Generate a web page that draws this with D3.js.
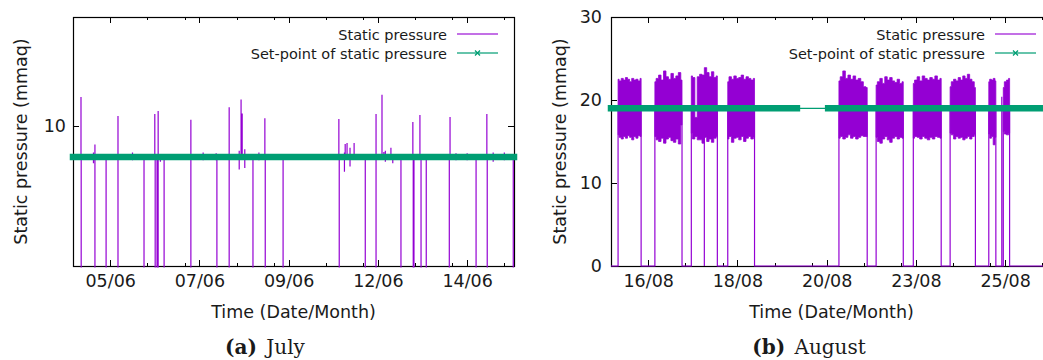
<!DOCTYPE html>
<html>
<head>
    <meta charset="utf-8" />
    <title>Static pressure</title>
    <style>
        body { margin: 0; background: #fff; }
        svg { display: block; }
        text { font-family: "DejaVu Sans", sans-serif; fill: #1a1a1a; }
        .axis path, .axis line {
            stroke: #000;
            shape-rendering: crispEdges;
        }
        .axis text { font-size: 17.5px; fill: #1a1a1a; font-family: "DejaVu Sans", sans-serif; }
        .title { font-size: 17.5px; }
        .legend { font-size: 14.5px; }
        .caption { font-family: "DejaVu Serif", serif; font-size: 20px; word-spacing: 3px; }
    </style>
    <script src="https://d3js.org/d3.v7.min.js"></script>
</head>
<body>
<script>

// x values are days since the first midnight of each panel (04/06 and 15/08)
let dayRange = [0, 11.86];
let majorDays = [1, 3.4, 5.8, 8.2, 10.6];
let minorDays = [2, 3, 4.4, 5.4, 6.8, 7.8, 9.2, 10.2, 11.6];
let juneLabels = ["05/06", "07/06", "09/06", "12/06", "14/06"];
let augLabels = ["16/08", "18/08", "20/08", "23/08", "25/08"];

let juneYDomain = [1, 17];
let juneYTicks = [10];
let augYDomain = [0, 30];
let augYTicks = [0, 10, 20, 30];

// (a) panel: pressure sits on the set-point, with short spikes and drops
let juneLevel = 8;
let juneSetLevel = 8;
let juneSetpoint = [[0, 11.86]];
let juneSpikes = [
    [0.215, 11.86], [0.59, 8.8], [1.21, 10.64], [2.2, 10.77], [2.29, 10.96],
    [3.17, 10.39], [4.2, 11.2], [4.52, 11.7], [4.55, 10.8], [5.16, 10.5],
    [7.15, 10.45], [7.32, 8.84], [7.37, 8.9], [7.56, 8.9], [8.15, 10.77],
    [8.31, 12.0], [8.36, 8.33], [8.55, 8.6], [9.14, 10.26], [9.33, 10.7],
    [10.14, 10.58], [11.13, 10.77]
];
let juneDrops = [
    0.22, 0.59, 0.89, 1.21, 1.91, 2.21, 2.26, 2.29, 2.45, 3.17, 3.87, 4.2,
    4.84, 5.17, 5.65, 7.16, 7.86, 8.15, 8.82, 9.15, 9.17, 9.36, 9.5, 10.12,
    10.84, 11.14, 11.84
];
// small wiggles around the set-point: [day, low, high]
let juneWiggles = [
    [0.55, 7.6, 8.3], [1.6, 7.8, 8.3], [2.35, 7.7, 8.2], [3.5, 7.8, 8.3],
    [3.85, 7.8, 8.25], [4.47, 7.2, 8.4], [4.62, 7.3, 8.5], [5.0, 7.8, 8.3],
    [7.3, 7.05, 8.3], [7.45, 7.4, 8.6], [8.4, 7.7, 8.4], [8.6, 7.6, 8.2],
    [10.3, 7.8, 8.25], [10.6, 7.8, 8.25], [11.3, 7.7, 8.3], [11.6, 7.8, 8.3]
];

// (b) panel: working-hours blocks oscillating between low and high envelopes
let augSetLevel = 19;
let augSetpoint = [[0, 5.0], [5.84, 11.86]];
let augBlocks = [
    [0.19, 0.81], [1.18, 1.91], [2.16, 2.86], [3.14, 3.86], [6.13, 6.89],
    [7.13, 7.86], [8.13, 8.88], [9.12, 9.80], [10.16, 10.35], [10.55, 10.72]
];
let augHi = [
    [22.5, 22.3, 22.6, 22.4, 22.7, 22.5, 22.2, 22.6, 22.4, 22.5, 22.3, 22.6],
    [22.2, 22.6, 23.0, 22.4, 23.5, 22.8, 22.5, 23.2, 22.6, 22.9, 23.3, 22.4],
    [22.9, 22.7, 17.9, 22.8, 23.1, 23.0, 23.9, 23.3, 22.8, 23.4, 22.7, 22.9],
    [22.2, 22.8, 22.5, 22.9, 22.6, 22.7, 23.0, 22.5, 22.8, 22.6, 22.4, 22.6],
    [22.3, 22.8, 23.5, 22.6, 23.0, 22.5, 22.9, 22.4, 22.6, 22.2, 21.6, 21.5],
    [21.8, 22.2, 22.6, 22.0, 22.8, 22.4, 22.7, 22.3, 22.1, 22.5, 22.0, 22.2],
    [22.0, 22.4, 22.8, 22.3, 22.9, 22.6, 22.4, 22.7, 22.5, 22.9, 22.4, 22.6],
    [21.6, 22.2, 22.5, 22.3, 22.7, 22.4, 22.9, 22.6, 23.1, 22.5, 22.2, 21.5],
    [22.2, 22.5, 22.4, 22.6, 22.3],
    [21.5, 22.2, 22.4, 22.6]
];
let augLo = [
    [15.8, 15.5, 15.3, 15.6, 15.4, 15.7, 15.5, 15.2, 15.6, 15.4, 15.7, 15.6],
    [15.6, 15.2, 15.0, 15.4, 14.8, 15.3, 15.5, 15.1, 14.9, 15.3, 14.7, 17.0],
    [16.0, 15.3, 15.6, 15.2, 15.2, 14.8, 15.5, 15.0, 15.3, 14.9, 15.4, 15.6],
    [15.3, 15.6, 14.9, 15.4, 15.5, 15.2, 15.6, 15.0, 15.4, 15.6, 15.3, 15.5],
    [15.4, 15.6, 15.3, 15.5, 15.8, 15.4, 15.6, 15.3, 15.5, 15.7, 15.6, 15.6],
    [15.5, 15.0, 14.8, 15.3, 15.6, 15.2, 14.9, 15.4, 15.6, 15.3, 15.5, 15.4],
    [15.4, 15.6, 15.5, 15.3, 15.6, 15.4, 15.2, 15.5, 15.3, 15.6, 15.5, 15.4],
    [16.0, 15.8, 15.3, 15.6, 15.4, 15.5, 15.2, 15.4, 15.6, 15.3, 15.6, 15.8],
    [15.9, 15.4, 15.6, 14.6, 15.5],
    [16.2, 15.9, 15.8, 16.0]
];
let augSpikes = [[10.51, 20.4]];
let augDrops = [2.51];

let purple = "#9400d3",
    green = "#009e73";

let plotTop = 17, plotBottom = 266;

let svg = d3.select("body")
    .append("svg")
    .attr("width", 1043)
    .attr("height", 360);

function juneSeries() {
    let events = [];
    juneSpikes.forEach(d => events.push([d[0], [d[1]]]));
    juneDrops.forEach(d => events.push([d, [0]]));
    juneWiggles.forEach(d => events.push([d[0], [d[1], d[2]]]));
    events.sort((a, b) => a[0] - b[0]);
    let pts = [[dayRange[0], juneLevel]];
    events.forEach(e => {
        pts.push([e[0], juneLevel]);
        e[1].forEach(v => pts.push([e[0], v]));
        pts.push([e[0], juneLevel]);
    });
    pts.push([dayRange[1], juneLevel]);
    return pts;
}

function augSeries() {
    // zero outside the blocks, edges rise into the band
    let events = [];
    augBlocks.forEach(b => {
        events.push([b[0], [0, augSetLevel]]);
        events.push([b[1], [augSetLevel, 0]]);
    });
    augSpikes.forEach(d => events.push([d[0], [0, d[1], 0]]));
    augDrops.forEach(d => events.push([d, [augSetLevel, 0, augSetLevel]]));
    events.sort((a, b) => a[0] - b[0]);
    let pts = [[dayRange[0], 0]];
    events.forEach(e => e[1].forEach(v => pts.push([e[0], v])));
    pts.push([dayRange[1], 0]);
    return pts;
}

function drawPanel(p) {
    let g = svg.append("g");

    let x = d3.scaleLinear().domain(dayRange).range([p.left, p.right]);
    let y = d3.scaleLinear().domain(p.yDomain).range([plotBottom, plotTop]);

    // axes, ticks inside on all four sides
    g.append("g")
        .attr("class", "axis")
        .attr("transform", "translate(0," + plotBottom + ")")
        .call(d3.axisBottom(x).tickValues(majorDays)
            .tickFormat((d, i) => p.labels[i])
            .tickSizeInner(-6).tickSizeOuter(0).tickPadding(9))
        .call(a => a.select(".domain").remove());
    g.append("g")
        .attr("class", "axis")
        .attr("transform", "translate(0," + plotBottom + ")")
        .call(d3.axisBottom(x).tickValues(minorDays).tickFormat("")
            .tickSizeInner(-3).tickSizeOuter(0))
        .call(a => a.select(".domain").remove());
    g.append("g")
        .attr("class", "axis")
        .attr("transform", "translate(0," + plotTop + ")")
        .call(d3.axisTop(x).tickValues(majorDays).tickFormat("")
            .tickSizeInner(-6).tickSizeOuter(0))
        .call(a => a.select(".domain").remove());
    g.append("g")
        .attr("class", "axis")
        .attr("transform", "translate(0," + plotTop + ")")
        .call(d3.axisTop(x).tickValues(minorDays).tickFormat("")
            .tickSizeInner(-3).tickSizeOuter(0))
        .call(a => a.select(".domain").remove());
    g.append("g")
        .attr("class", "axis")
        .attr("transform", "translate(" + p.left + ",0)")
        .call(d3.axisLeft(y).tickValues(p.yTicks)
            .tickSizeInner(-6).tickSizeOuter(0).tickPadding(p.yPad))
        .call(a => a.select(".domain").remove());
    g.append("g")
        .attr("class", "axis")
        .attr("transform", "translate(" + p.right + ",0)")
        .call(d3.axisRight(y).tickValues(p.yTicks).tickFormat("")
            .tickSizeInner(-6).tickSizeOuter(0))
        .call(a => a.select(".domain").remove());

    g.append("rect")
        .attr("x", p.left + 0.5)
        .attr("y", plotTop + 0.5)
        .attr("width", p.right - p.left)
        .attr("height", plotBottom - plotTop)
        .attr("fill", "none")
        .attr("stroke", "#000")
        .attr("stroke-width", 1.2);

    // clip the data to the frame
    g.append("clipPath")
        .attr("id", p.id)
        .append("rect")
        .attr("x", p.left)
        .attr("y", plotTop)
        .attr("width", p.right - p.left + 1)
        .attr("height", plotBottom - plotTop + 1.5);

    let data = g.append("g").attr("clip-path", "url(#" + p.id + ")");

    let line = d3.line()
        .x(d => x(d[0]))
        .y(d => y(d[1]));

    data.append("path")
        .attr("d", line(p.series))
        .attr("fill", "none")
        .attr("stroke", purple)
        .attr("stroke-width", 1.2);

    if (p.blocks) {
        let band = d3.area()
            .curve(d3.curveStep)
            .x(d => x(d[0]))
            .y0(d => y(d[1]))
            .y1(d => y(d[2]));
        p.blocks.forEach((b, i) => {
            let hi = p.hi[i], lo = p.lo[i];
            let pts = hi.map((v, j) => [b[0] + (b[1] - b[0]) * j / (hi.length - 1), lo[j], v]);
            data.append("path")
                .attr("d", band(pts))
                .attr("fill", purple)
                .attr("stroke", purple)
                .attr("stroke-width", 0.8);
        });
    }

    // set-point: dense markers make a thick band
    p.setpoint.forEach(s => {
        g.append("line")
            .attr("x1", x(s[0])).attr("x2", x(s[1]))
            .attr("y1", y(p.setLevel)).attr("y2", y(p.setLevel))
            .attr("stroke", green)
            .attr("stroke-width", 6.5)
            .attr("stroke-linecap", "square");
    });
    // plain line across the gaps
    for (let i = 1; i < p.setpoint.length; i++) {
        g.append("line")
            .attr("x1", x(p.setpoint[i - 1][1])).attr("x2", x(p.setpoint[i][0]))
            .attr("y1", y(p.setLevel)).attr("y2", y(p.setLevel))
            .attr("stroke", green)
            .attr("stroke-width", 1.2);
    }

    // legend
    let lx = p.right - 67;
    let leg = g.append("g").attr("class", "legend");
    leg.append("text").attr("x", lx).attr("y", 40)
        .attr("text-anchor", "end").text("Static pressure");
    leg.append("text").attr("x", lx).attr("y", 59)
        .attr("text-anchor", "end").text("Set-point of static pressure");
    leg.append("line")
        .attr("x1", lx + 10).attr("x2", lx + 51)
        .attr("y1", 34).attr("y2", 34)
        .attr("stroke", purple).attr("stroke-opacity", 0.75)
        .attr("stroke-width", 1.3);
    leg.append("line")
        .attr("x1", lx + 10).attr("x2", lx + 51)
        .attr("y1", 53).attr("y2", 53)
        .attr("stroke", green).attr("stroke-opacity", 0.8)
        .attr("stroke-width", 1.3);
    leg.append("path")
        .attr("d", "M" + (lx + 28) + ",50.5l5,5m0,-5l-5,5")
        .attr("stroke", green).attr("stroke-width", 1.3);

    // titles
    g.append("text")
        .attr("class", "title")
        .attr("transform", "translate(" + p.yTitleX + "," + ((plotTop + plotBottom) / 2) + ") rotate(-90)")
        .attr("text-anchor", "middle")
        .text("Static pressure (mmaq)");
    g.append("text")
        .attr("class", "title")
        .attr("x", (p.left + p.right) / 2)
        .attr("y", 318)
        .attr("text-anchor", "middle")
        .text("Time (Date/Month)");

    let cap = g.append("text")
        .attr("class", "caption")
        .attr("x", p.capX)
        .attr("y", 354)
        .attr("text-anchor", "middle");
    cap.append("tspan").attr("font-weight", "bold").text(p.capTag);
    cap.append("tspan").text(" " + p.capText);
}

drawPanel({
    id: "clipJune",
    left: 73, right: 514,
    yDomain: juneYDomain, yTicks: juneYTicks, yPad: 7,
    labels: juneLabels,
    series: juneSeries(),
    setpoint: juneSetpoint, setLevel: juneSetLevel,
    yTitleX: 27, capX: 265, capTag: "(a)", capText: "July"
});

drawPanel({
    id: "clipAug",
    left: 611, right: 1052,
    yDomain: augYDomain, yTicks: augYTicks, yPad: 9,
    labels: augLabels,
    series: augSeries(),
    blocks: augBlocks, hi: augHi, lo: augLo,
    setpoint: augSetpoint, setLevel: augSetLevel,
    yTitleX: 566, capX: 809, capTag: "(b)", capText: "August"
});

</script>
</body>
</html>
